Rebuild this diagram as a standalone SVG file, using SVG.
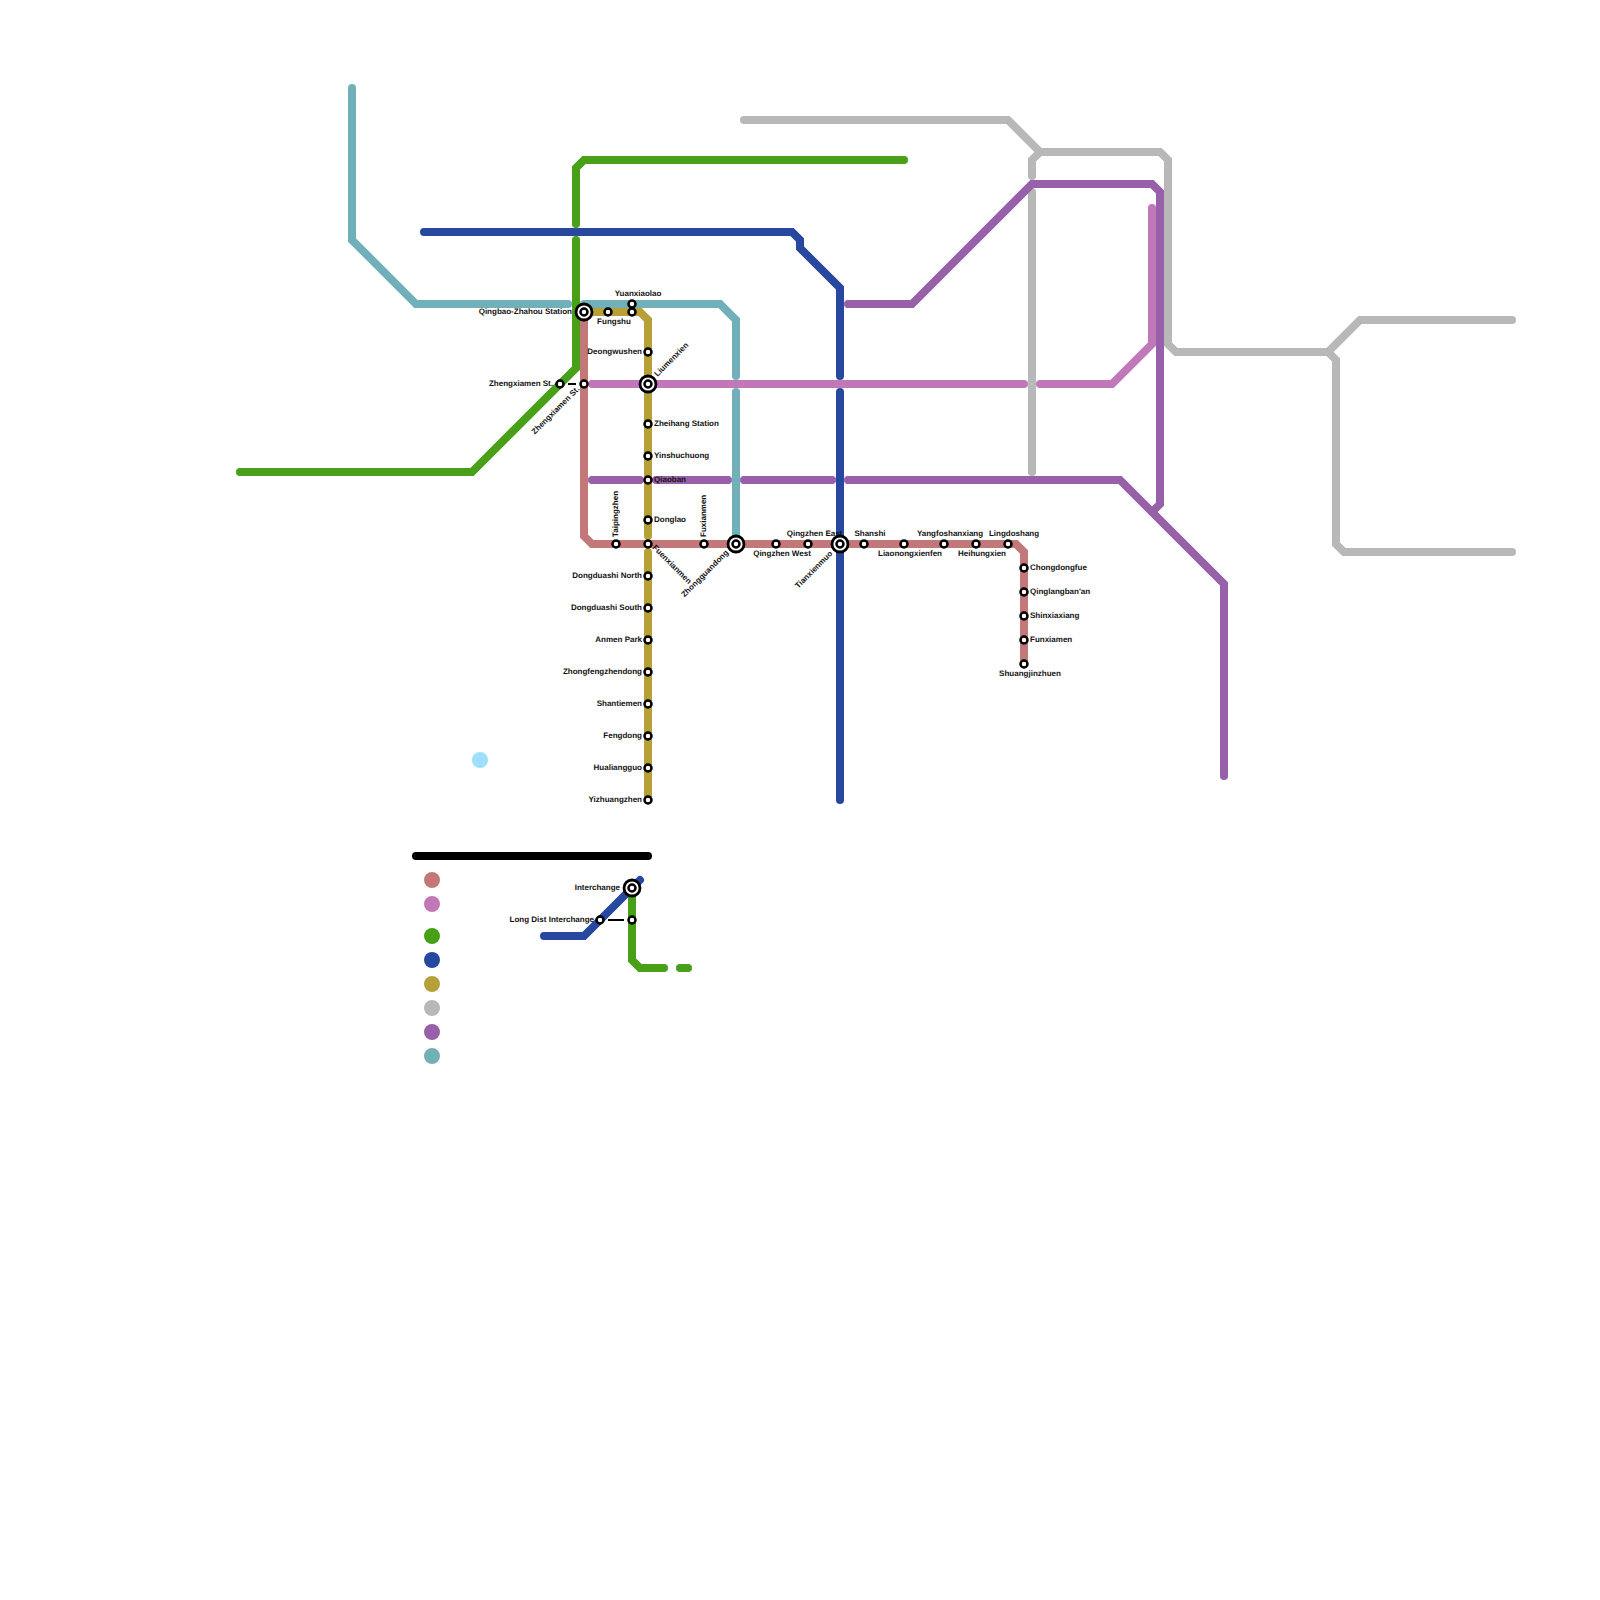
<svg xmlns="http://www.w3.org/2000/svg" width="1600" height="1600" viewBox="0 0 1600 1600">
<style>
.l{fill:none;stroke-width:8;stroke-linecap:round;stroke-linejoin:miter}
.rose{stroke:#c27878}.pink{stroke:#c078b8}.green{stroke:#48a018}.blue{stroke:#2848a0}.gold{stroke:#b8a038}.gray{stroke:#b8b8b8}.purple{stroke:#9860a8}.teal{stroke:#70b0b8}
.s{fill:#fff;stroke:#000;stroke-width:2.5}
.w{fill:#fff;stroke:#000;stroke-width:2.8}
text{font-family:"Liberation Sans",Arial,sans-serif;font-size:8px;font-weight:700;fill:#111;text-rendering:geometricPrecision}
.e{text-anchor:end}.m{text-anchor:middle}
.k{stroke:#000;stroke-width:2;fill:none}
</style>
<rect width="1600" height="1600" fill="#fff"/>
<g id="connectors">
<path class="l teal" d="M352 88V240L416 304H568"/>
<path class="l teal" d="M584 304H720L736 320V376"/>
<path class="l teal" d="M736 392V544"/>
<path class="l gold" d="M584 312H640L648 320V536"/>
<path class="l gold" d="M648 552V800"/>
<path class="l rose" d="M584 312V536L592 544H1016L1024 552V664"/>
<path class="l pink" d="M592 384H1024"/>
<path class="l pink" d="M1040 384H1112L1152 344V208"/>
<path class="l green" d="M240 472H472L576 368V240"/>
<path class="l green" d="M576 224V168L584 160H904"/>
<path class="l blue" d="M424 232H792L800 240V248L840 288V376"/>
<path class="l blue" d="M840 392V800"/>
<path class="l gray" d="M744 120H1008L1040 152L1032 160V176"/>
<path class="l gray" d="M1032 192V472"/>
<path class="l gray" d="M1040 152H1160L1168 160V344L1176 352H1328L1336 360V544L1344 552H1512"/>
<path class="l gray" d="M1328 352L1360 320H1512"/>
<path class="l purple" d="M848 304H912L1032 184H1152L1160 192V504L1152 512"/>
<path class="l purple" d="M592 480H640"/>
<path class="l purple" d="M656 480H728"/>
<path class="l purple" d="M744 480H832"/>
<path class="l purple" d="M848 480H1120L1224 584V776"/>
<path class="l blue" d="M544 936H584L640 880"/>
<path class="l green" d="M632 888V960L640 968H664"/>
<path class="l green" d="M680 968H688"/>
<path d="M416 856H648" fill="none" stroke="#000" stroke-width="8" stroke-linecap="round"/>
<path class="k" d="M568 384H576M608 920H624"/>
</g>
<g id="legend">
<circle cx="432" cy="880" r="8" fill="#c27878"/>
<circle cx="432" cy="904" r="8" fill="#c078b8"/>
<circle cx="432" cy="936" r="8" fill="#48a018"/>
<circle cx="432" cy="960" r="8" fill="#2848a0"/>
<circle cx="432" cy="984" r="8" fill="#b8a038"/>
<circle cx="432" cy="1008" r="8" fill="#b8b8b8"/>
<circle cx="432" cy="1032" r="8" fill="#9860a8"/>
<circle cx="432" cy="1056" r="8" fill="#70b0b8"/>
<circle cx="480" cy="760" r="8" fill="#a0e0ff"/>
</g>
<g id="n-qingbao"><circle class="w" cx="584" cy="312" r="8"/><circle class="s" cx="584" cy="312" r="3.5"/><text class="e" x="572" y="314">Qingbao-Zhahou Station</text></g>
<g id="n-fungshu"><circle class="s" cx="608" cy="312" r="3.5"/><text class="m" x="614" y="324">Fungshu</text></g>
<g id="n-yuanxiaolao"><circle class="s" cx="632" cy="304" r="3.5"/><circle class="s" cx="632" cy="312" r="3.5"/><text class="m" x="638" y="296">Yuanxiaolao</text></g>
<g id="n-deongwushen"><circle class="s" cx="648" cy="352" r="3.5"/><text class="e" x="642" y="354">Deongwushen</text></g>
<g id="n-liumenxien"><circle class="w" cx="648" cy="384" r="8"/><circle class="s" cx="648" cy="384" r="3.5"/><text transform="translate(657.500 377) rotate(-45)">Liumenxien</text></g>
<g id="n-zhengxiamen-w"><circle class="s" cx="560" cy="384" r="3.5"/><text class="e" x="553" y="386">Zhengxiamen St.</text></g>
<g id="n-zhengxiamen-e"><circle class="s" cx="584" cy="384" r="3.5"/><text class="e" transform="translate(580 389.500) rotate(-45)">Zhengxiamen St.</text></g>
<g id="n-zheihang"><circle class="s" cx="648" cy="424" r="3.5"/><text x="654" y="426">Zheihang Station</text></g>
<g id="n-yinshu"><circle class="s" cx="648" cy="456" r="3.5"/><text x="654" y="458">Yinshuchuong</text></g>
<g id="n-qiaoban"><circle class="s" cx="648" cy="480" r="3.5"/><text x="654" y="482">Qiaoban</text></g>
<g id="n-donglao"><circle class="s" cx="648" cy="520" r="3.5"/><text x="654" y="522">Donglao</text></g>
<g id="n-taiping"><circle class="s" cx="616" cy="544" r="3.5"/><text transform="translate(618 537) rotate(-90)">Taipingzhen</text></g>
<g id="n-fuenxianmen"><circle class="s" cx="648" cy="544" r="3.5"/><text transform="translate(652 548) rotate(45)">Fuenxianmen</text></g>
<g id="n-fuxianmen"><circle class="s" cx="704" cy="544" r="3.5"/><text transform="translate(706 537) rotate(-90)">Fuxianmen</text></g>
<g id="n-zhongguandong"><circle class="w" cx="736" cy="544" r="8"/><circle class="s" cx="736" cy="544" r="3.5"/><text class="e" transform="translate(729 553) rotate(-45)">Zhongguandong</text></g>
<g id="n-qz-west"><circle class="s" cx="776" cy="544" r="3.5"/><text class="m" x="782" y="556">Qingzhen West</text></g>
<g id="n-qz-east"><circle class="s" cx="808" cy="544" r="3.5"/><text class="m" x="814.500" y="536">Qingzhen East</text></g>
<g id="n-tianxien"><circle class="w" cx="840" cy="544" r="8"/><circle class="s" cx="840" cy="544" r="3.5"/><text class="e" transform="translate(833 554) rotate(-45)">Tianxienmuo</text></g>
<g id="n-shanshi"><circle class="s" cx="864" cy="544" r="3.5"/><text class="m" x="870" y="536">Shanshi</text></g>
<g id="n-liaonong"><circle class="s" cx="904" cy="544" r="3.5"/><text class="m" x="910" y="556">Liaonongxienfen</text></g>
<g id="n-yangfo"><circle class="s" cx="944" cy="544" r="3.5"/><text class="m" x="950" y="536">Yangfoshanxiang</text></g>
<g id="n-heihung"><circle class="s" cx="976" cy="544" r="3.5"/><text class="m" x="982" y="556">Heihungxien</text></g>
<g id="n-lingdo"><circle class="s" cx="1008" cy="544" r="3.5"/><text class="m" x="1014" y="536">Lingdoshang</text></g>
<g id="n-chong"><circle class="s" cx="1024" cy="568" r="3.5"/><text x="1030" y="570">Chongdongfue</text></g>
<g id="n-qinglang"><circle class="s" cx="1024" cy="592" r="3.5"/><text x="1030" y="594">Qinglangban'an</text></g>
<g id="n-shinxia"><circle class="s" cx="1024" cy="616" r="3.5"/><text x="1030" y="618">Shinxiaxiang</text></g>
<g id="n-funxia"><circle class="s" cx="1024" cy="640" r="3.5"/><text x="1030" y="642">Funxiamen</text></g>
<g id="n-shuang"><circle class="s" cx="1024" cy="664" r="3.5"/><text class="m" x="1030" y="676">Shuangjinzhuen</text></g>
<g id="n-dd-n"><circle class="s" cx="648" cy="576" r="3.5"/><text class="e" x="642" y="578">Dongduashi North</text></g>
<g id="n-dd-s"><circle class="s" cx="648" cy="608" r="3.5"/><text class="e" x="642" y="610">Dongduashi South</text></g>
<g id="n-anmen"><circle class="s" cx="648" cy="640" r="3.5"/><text class="e" x="642" y="642">Anmen Park</text></g>
<g id="n-zhongfeng"><circle class="s" cx="648" cy="672" r="3.5"/><text class="e" x="642" y="674">Zhongfengzhendong</text></g>
<g id="n-shantie"><circle class="s" cx="648" cy="704" r="3.5"/><text class="e" x="642" y="706">Shantiemen</text></g>
<g id="n-fengdong"><circle class="s" cx="648" cy="736" r="3.5"/><text class="e" x="642" y="738">Fengdong</text></g>
<g id="n-hualiang"><circle class="s" cx="648" cy="768" r="3.5"/><text class="e" x="642" y="770">Hualiangguo</text></g>
<g id="n-yizhuang"><circle class="s" cx="648" cy="800" r="3.5"/><text class="e" x="642" y="802">Yizhuangzhen</text></g>
<g id="n-interchange"><circle class="w" cx="632" cy="888" r="8"/><circle class="s" cx="632" cy="888" r="3.5"/><text class="e" x="620" y="890">Interchange</text></g>
<g id="n-longdist"><circle class="s" cx="600" cy="920" r="3.5"/><text class="e" x="594" y="922">Long Dist Interchange</text></g>
<g id="n-longdist2"><circle class="s" cx="632" cy="920" r="3.5"/></g>
</svg>
